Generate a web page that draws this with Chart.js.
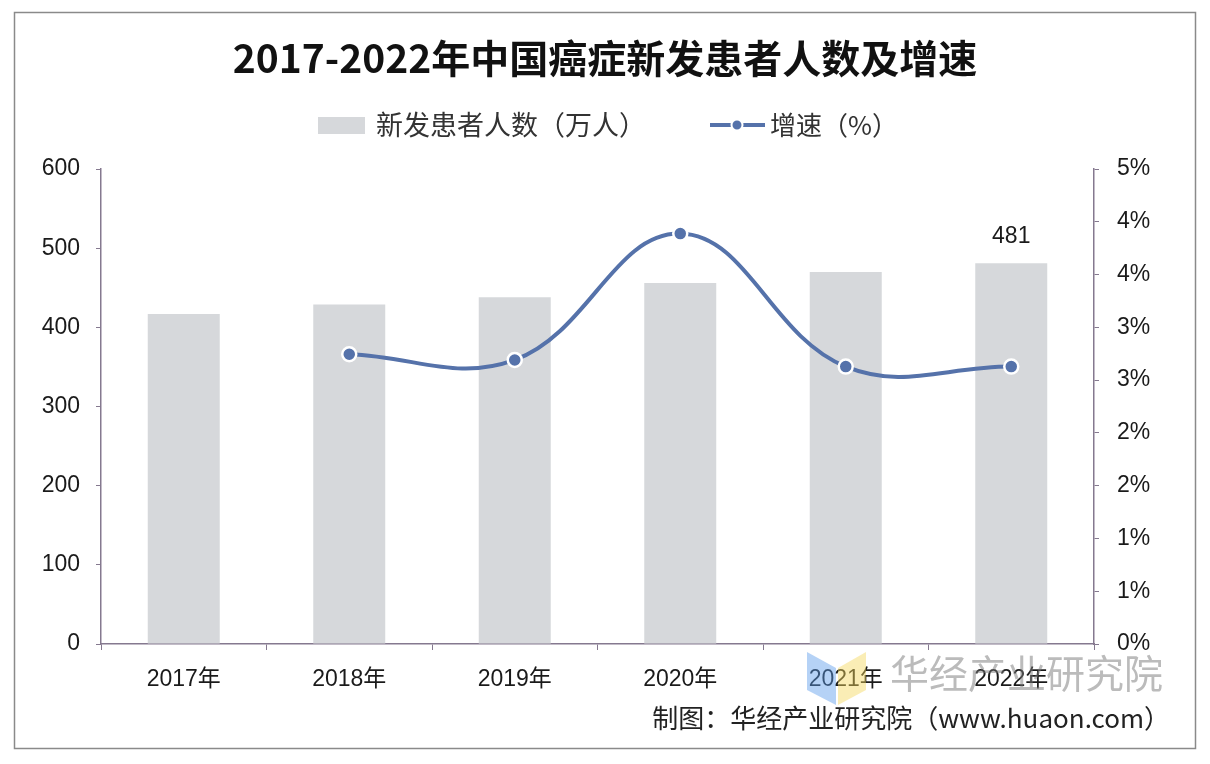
<!DOCTYPE html>
<html>
<head>
<meta charset="utf-8">
<script src="https://cdn.jsdelivr.net/npm/chart.js@4.4.1/dist/chart.umd.min.js"></script>
<style>
  html, body { margin: 0; padding: 0; background: #fff; }
  #wrap { width: 1210px; height: 764px; }
</style>
</head>
<body>
<div id="wrap"><canvas id="cancer-chart" width="1210" height="764"></canvas></div>
<script>
const years = ['2017年', '2018年', '2019年', '2020年', '2021年', '2022年'];
const newPatients = [417, 429, 438, 456, 470, 481];
const growthRate = [null, 3.05, 2.99, 4.32, 2.92, 2.92];
const barLabels = [null, null, null, null, null, '481'];
const leftTickLabels = ['0', '100', '200', '300', '400', '500', '600'];
const rightTickLabels = ['0%', '1%', '1%', '2%', '2%', '3%', '3%', '4%', '4%', '5%'];

const titleText = '2017-2022年中国癌症新发患者人数及增速';
const barLegend = '新发患者人数（万人）';
const lineLegend = '增速（%）';
const sourceText = '制图：华经产业研究院（www.huaon.com）';
const watermark = '华经产业研究院';

const axisColor = '#85798f';
const barColor = '#d6d8db';
const lineColor = '#5572aa';
const cjk = '"Liberation Sans", "Noto Sans CJK SC", sans-serif';

// title, legend, value label, source and border
const decor = {
    id: 'decor',
    beforeDraw(chart) {
        const ctx = chart.ctx;
        ctx.save();
        ctx.strokeStyle = '#8a8a8a';
        ctx.lineWidth = 1.5;
        ctx.strokeRect(14.5, 12.5, 1181, 736);
        ctx.restore();
    },
    afterDraw(chart) {
        const ctx = chart.ctx;
        ctx.save();
        ctx.textBaseline = 'middle';

        ctx.fillStyle = '#111';
        ctx.font = 'bold 39px "Noto Sans CJK SC", sans-serif';
        ctx.textAlign = 'center';
        ctx.fillText(titleText, 605, 58);

        // legend
        ctx.textAlign = 'left';
        ctx.font = '27px "Noto Sans CJK SC", sans-serif';
        ctx.fillStyle = barColor;
        ctx.fillRect(318, 117, 47, 17);
        ctx.fillStyle = '#333';
        ctx.fillText(barLegend, 376, 125);
        ctx.strokeStyle = lineColor;
        ctx.lineWidth = 4;
        ctx.beginPath();
        ctx.moveTo(710, 125);
        ctx.lineTo(765, 125);
        ctx.stroke();
        ctx.beginPath();
        ctx.arc(737, 125, 5.5, 0, Math.PI * 2);
        ctx.fillStyle = lineColor;
        ctx.fill();
        ctx.strokeStyle = '#fff';
        ctx.lineWidth = 2;
        ctx.stroke();
        ctx.fillStyle = '#333';
        ctx.font = '26px "Noto Sans CJK SC", sans-serif';
        ctx.fillText(lineLegend, 770, 125);

        // value label above bars
        const meta = chart.getDatasetMeta(1);
        ctx.font = '23px ' + cjk;
        ctx.fillStyle = '#1a1a1a';
        ctx.textAlign = 'center';
        meta.data.forEach((bar, i) => {
            if (barLabels[i]) ctx.fillText(barLabels[i], bar.x, bar.y - 27);
        });

        // watermark
        ctx.globalAlpha = 0.45;
        ctx.fillStyle = '#5b9bea';
        ctx.beginPath();
        ctx.moveTo(807, 652); ctx.lineTo(836, 668); ctx.lineTo(836, 705); ctx.lineTo(807, 690);
        ctx.fill();
        ctx.fillStyle = '#f5d65a';
        ctx.beginPath();
        ctx.moveTo(838, 668); ctx.lineTo(866, 652); ctx.lineTo(866, 690); ctx.lineTo(838, 705);
        ctx.fill();
        ctx.globalAlpha = 0.5;
        ctx.fillStyle = '#777';
        ctx.font = '39px "Noto Sans CJK SC", sans-serif';
        ctx.textAlign = 'left';
        ctx.fillText(watermark, 890, 673);
        ctx.globalAlpha = 1;

        ctx.fillStyle = '#222';
        ctx.font = '26px "Noto Sans CJK SC", sans-serif';
        ctx.textAlign = 'right';
        ctx.fillText(sourceText, 1170, 718);
        ctx.restore();
    }
};

new Chart(document.getElementById('cancer-chart'), {
    type: 'bar',
    data: {
        labels: years,
        datasets: [
            {
                type: 'line',
                label: lineLegend,
                data: growthRate,
                yAxisID: 'y2',
                borderColor: lineColor,
                borderWidth: 4,
                tension: 0.4,
                pointRadius: 7,
                pointBackgroundColor: lineColor,
                pointBorderColor: '#fff',
                pointBorderWidth: 2.5,
                order: 1
            },
            {
                type: 'bar',
                label: barLegend,
                data: newPatients,
                yAxisID: 'y',
                backgroundColor: barColor,
                barPercentage: 0.435,
                categoryPercentage: 1,
                order: 2
            }
        ]
    },
    options: {
        responsive: false,
        animation: false,
        layout: { padding: { top: 169, left: 14, right: 15, bottom: 16 } },
        plugins: {
            legend: { display: false },
            title: { display: false },
            tooltip: { enabled: false }
        },
        scales: {
            x: {
                grid: { display: true, offset: true, drawOnChartArea: false, tickLength: 6, color: axisColor },
                border: { color: axisColor, width: 1.5 },
                ticks: { font: { size: 23, family: cjk }, color: '#1a1a1a', padding: 16 },
                afterFit(scale) { scale.height = 104; }
            },
            y: {
                position: 'left',
                min: 0,
                max: 600,
                grid: { drawOnChartArea: false, tickLength: 5, color: axisColor },
                border: { color: axisColor, width: 1.5 },
                afterBuildTicks(scale) {
                    scale.ticks = leftTickLabels.map((t, i) => ({ value: i * 100 }));
                },
                ticks: {
                    font: { size: 23, family: cjk },
                    color: '#1a1a1a',
                    padding: 16,
                    callback: (v, i) => leftTickLabels[i]
                },
                afterFit(scale) { scale.width = 87; }
            },
            y2: {
                position: 'right',
                min: 0,
                max: 5,
                grid: { drawOnChartArea: false, tickLength: 5, color: axisColor },
                border: { color: axisColor, width: 1.5 },
                afterBuildTicks(scale) {
                    scale.ticks = rightTickLabels.map((t, i) => ({ value: i * 5 / (rightTickLabels.length - 1) }));
                },
                ticks: {
                    font: { size: 23, family: cjk },
                    color: '#1a1a1a',
                    padding: 18,
                    callback: (v, i) => rightTickLabels[i]
                },
                afterFit(scale) { scale.width = 101; }
            }
        }
    },
    plugins: [decor]
});
</script>
</body>
</html>
